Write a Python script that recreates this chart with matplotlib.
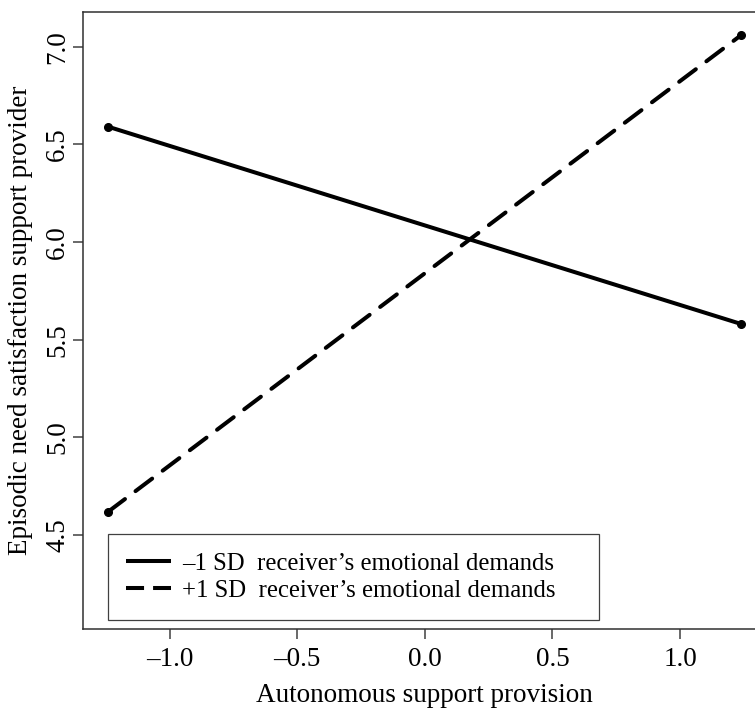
import matplotlib
matplotlib.use("Agg")
import matplotlib.pyplot as plt
from matplotlib.lines import Line2D

plt.rcParams['font.family'] = ['Liberation Serif', 'DejaVu Serif']
plt.rcParams['lines.scale_dashes'] = False

# Data
x_vals = [-1.24, 1.24]
low_demands = [6.59, 5.58]
high_demands = [4.62, 7.06]
series_labels = ["\u20131 SD  receiver\u2019s emotional demands",
                 "+1 SD  receiver\u2019s emotional demands"]
x_ticks = [-1.0, -0.5, 0.0, 0.5, 1.0]
y_ticks = [4.5, 5.0, 5.5, 6.0, 6.5, 7.0]
x_label = "Autonomous support provision"
y_label = "Episodic need satisfaction support provider"

FS = 19.5
LFS = 17.8
W, H = 755, 711
fig = plt.figure(figsize=(W / 100, H / 100), dpi=100)
ax = fig.add_axes([83 / W, (H - 629) / H, (766.7 - 83) / W, (629 - 11.7) / H])

lw = 2.9
ax.plot(x_vals, low_demands, color='black', lw=lw, solid_capstyle='round',
        marker='o', markersize=5.5)
ax.plot(x_vals, high_demands, color='black', lw=lw, dash_capstyle='round',
        dashes=(15, 9.5), marker='o', markersize=5.5)

ax.set_xlim(-1.3392, 1.3392)
ax.set_ylim(4.019, 7.179)
ax.set_xticks(x_ticks)
ax.set_xticklabels([("\u2013" if v < 0 else "") + f"{abs(v):.1f}" for v in x_ticks])
ax.set_yticks(y_ticks)
ax.set_yticklabels([f"{v:.1f}" for v in y_ticks], rotation=90, va='center')

spine_c = '#303030'
for s in ax.spines.values():
    s.set_color(spine_c)
    s.set_linewidth(1.1)
ax.tick_params(axis='both', direction='out', length=7.2, width=1.1,
               color='#404040', labelsize=FS, labelcolor='black')
ax.tick_params(axis='x', pad=6)
ax.tick_params(axis='y', pad=2)

ax.set_xlabel(x_label, fontsize=FS, labelpad=7.5)
ax.set_ylabel(y_label, fontsize=FS, labelpad=9)

handles = [Line2D([], [], color='black', lw=lw, solid_capstyle='butt'),
           Line2D([], [], color='black', lw=lw, dash_capstyle='butt', dashes=(13, 6.5))]
bx0 = (108 - 83) / (766.7 - 83)
bx1 = (599 - 83) / (766.7 - 83)
by1 = (629 - 535) / (629 - 11.7)
by0 = (629 - 620) / (629 - 11.7)
leg = ax.legend(handles, series_labels, loc='lower left',
                bbox_to_anchor=(bx0, by0, bx1 - bx0, by1 - by0),
                mode='expand', fontsize=LFS, frameon=True, fancybox=False,
                edgecolor='#404040', framealpha=1, borderpad=0.73,
                handlelength=1.8, handletextpad=0.45, labelspacing=0.2,
                borderaxespad=0)
leg.get_frame().set_linewidth(0.9)

fig.savefig("out.png", dpi=100)
